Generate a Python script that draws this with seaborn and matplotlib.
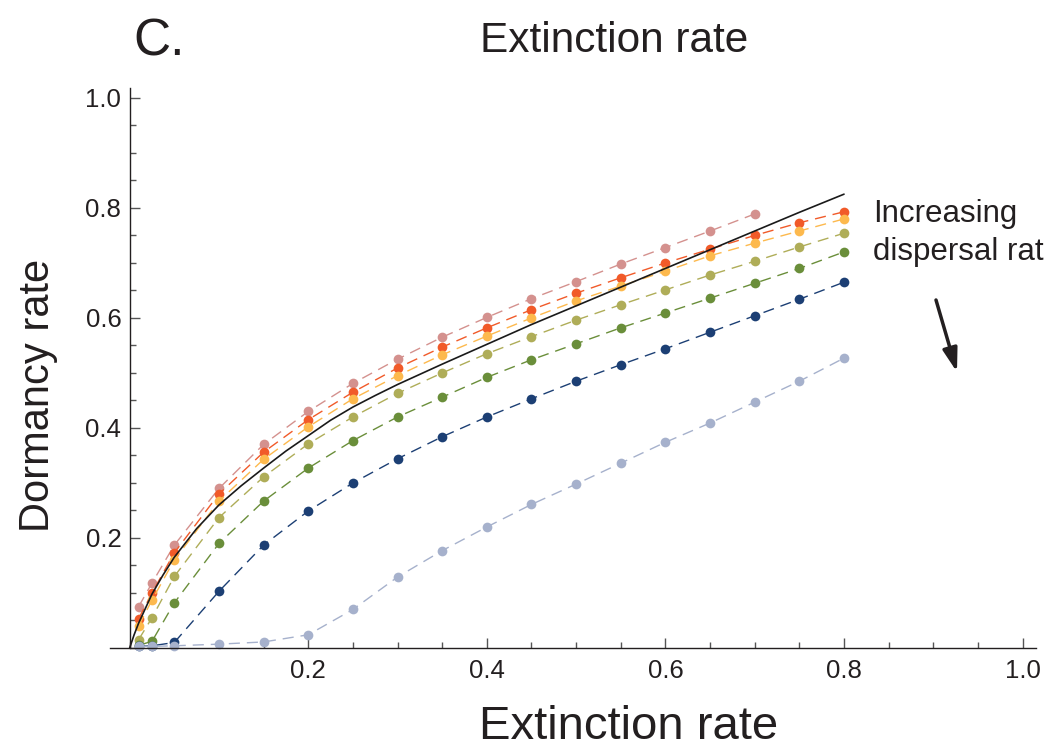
import seaborn as sns
import matplotlib.pyplot as plt
from matplotlib.ticker import FixedLocator, MultipleLocator, FormatStrFormatter
import pandas as pd

# extinction rate values where the simulations were run
ext_rate = [0.01, 0.025, 0.05, 0.1, 0.15, 0.2, 0.25, 0.3, 0.35, 0.4, 0.45,
            0.5, 0.55, 0.6, 0.65, 0.7, 0.75, 0.8]

# dormancy rate, one list per dispersal rate (lowest dispersal first)
dorm_pink = [0.075, 0.118, 0.187, 0.29, 0.37, 0.43, 0.481, 0.525, 0.565, 0.601,
             0.635, 0.666, 0.698, 0.728, 0.758, 0.789]
dorm_red = [0.053, 0.10, 0.173, 0.28, 0.356, 0.415, 0.465, 0.509, 0.547, 0.582,
            0.615, 0.645, 0.673, 0.70, 0.725, 0.75, 0.773, 0.793]
dorm_orange = [0.04, 0.087, 0.16, 0.267, 0.343, 0.402, 0.453, 0.495, 0.533, 0.567,
               0.60, 0.631, 0.658, 0.685, 0.713, 0.736, 0.758, 0.78]
dorm_olive = [0.015, 0.055, 0.13, 0.237, 0.311, 0.371, 0.42, 0.463, 0.50, 0.535,
              0.566, 0.596, 0.624, 0.651, 0.678, 0.703, 0.729, 0.754]
dorm_green = [0.005, 0.012, 0.082, 0.19, 0.267, 0.327, 0.377, 0.42, 0.456, 0.492,
              0.524, 0.553, 0.582, 0.609, 0.636, 0.663, 0.69, 0.72]
dorm_navy = [0.003, 0.004, 0.01, 0.103, 0.187, 0.249, 0.30, 0.344, 0.384, 0.42,
             0.453, 0.485, 0.515, 0.544, 0.574, 0.604, 0.634, 0.665]
dorm_grey = [0.003, 0.003, 0.004, 0.007, 0.011, 0.024, 0.07, 0.129, 0.177, 0.22,
             0.261, 0.298, 0.336, 0.374, 0.409, 0.447, 0.485, 0.527]

# black reference curve
curve_x = [0, 0.005, 0.01, 0.025, 0.0375, 0.05, 0.075, 0.1, 0.125, 0.15, 0.175,
           0.2, 0.225, 0.25, 0.275, 0.3, 0.35, 0.4, 0.45, 0.5, 0.55, 0.6, 0.65,
           0.7, 0.75, 0.8]
curve_y = [0, 0.024, 0.045, 0.098, 0.133, 0.165, 0.217, 0.26, 0.295, 0.327, 0.358,
           0.386, 0.414, 0.438, 0.459, 0.479, 0.516, 0.552, 0.588, 0.622, 0.656,
           0.69, 0.724, 0.758, 0.792, 0.825]

series = [
    (dorm_pink, '#D4918E'),
    (dorm_red, '#F15A29'),
    (dorm_orange, '#FDB94D'),
    (dorm_olive, '#AFAD58'),
    (dorm_green, '#6A8E3A'),
    (dorm_navy, '#1C3F74'),
    (dorm_grey, '#A6B1CC'),
]

sns.set_style('ticks')
plt.rcParams['font.family'] = ['Liberation Sans', 'DejaVu Sans']
txt = '#231F20'

fig = plt.figure(figsize=(10.44, 7.48), dpi=100)
ax = fig.add_axes([110 / 1044, 1 - 648 / 748, 926 / 1044, 560 / 748])

for vals, col in series:
    df = pd.DataFrame({'x': ext_rate[:len(vals)], 'y': vals})
    sns.lineplot(data=df, x='x', y='y', ax=ax, color=col, lw=1.0,
                 linestyle=(0, (8, 5)), marker='o', markersize=7,
                 markeredgewidth=0, sort=False, estimator=None,
                 errorbar=None, clip_on=False)

sns.lineplot(x=curve_x, y=curve_y, ax=ax, color='#1a1a1a', lw=1.2,
             sort=False, estimator=None, errorbar=None, clip_on=False)

ax.set_xlim(-0.022, 1.015)
ax.set_ylim(0, 1.018)
ax.set_xlabel('')
ax.set_ylabel('')

for s in ['top', 'right']:
    ax.spines[s].set_visible(False)
ax.spines['left'].set_position(('data', 0))
ax.spines['bottom'].set_position(('data', 0))
for s in ['left', 'bottom']:
    ax.spines[s].set_color(txt)
    ax.spines[s].set_linewidth(1.0)

ax.xaxis.set_major_locator(FixedLocator([0.2, 0.4, 0.6, 0.8, 1.0]))
ax.yaxis.set_major_locator(FixedLocator([0.2, 0.4, 0.6, 0.8, 1.0]))
ax.xaxis.set_minor_locator(MultipleLocator(0.05))
ax.yaxis.set_minor_locator(MultipleLocator(0.05))
ax.xaxis.set_major_formatter(FormatStrFormatter('%.1f'))
ax.yaxis.set_major_formatter(FormatStrFormatter('%.1f'))
ax.tick_params(which='both', direction='in', color='#555555', width=1.0,
               labelsize=18.5, labelcolor=txt)
ax.tick_params(which='major', length=7.5)
ax.tick_params(which='minor', length=4.5)
ax.tick_params(axis='x', pad=8)
ax.tick_params(axis='y', pad=6)

fig.text(133 / 1044, 1 - 55 / 748, 'C.', fontsize=37, color=txt, va='baseline')
fig.text(614 / 1044, 1 - 52 / 748, 'Extinction rate', fontsize=30.5,
         color=txt, ha='center', va='baseline')
fig.text(629 / 1044, 1 - 739 / 748, 'Extinction rate', fontsize=34,
         color=txt, ha='center', va='baseline')
fig.text(49 / 1044, 1 - 395 / 748, 'Dormancy rate', fontsize=30, color=txt,
         rotation=90, rotation_mode='anchor', ha='center', va='baseline')

# annotation runs off the right edge, as in the original panel
fig.text(873 / 1044, 1 - 222 / 748, 'Increasing', fontsize=22.5, color=txt,
         va='baseline')
fig.text(873 / 1044, 1 - 260 / 748, 'dispersal rate', fontsize=22.5, color=txt,
         va='baseline')
ax.annotate('', xy=(957 / 1044, 1 - 372 / 748), xytext=(936 / 1044, 1 - 300 / 748),
            xycoords='figure fraction', textcoords='figure fraction',
            arrowprops=dict(arrowstyle='-|>,head_length=0.7,head_width=0.22',
                            lw=2.5, color=txt, mutation_scale=20,
                            shrinkA=0, shrinkB=0))

fig.savefig('out.png', dpi=100)
